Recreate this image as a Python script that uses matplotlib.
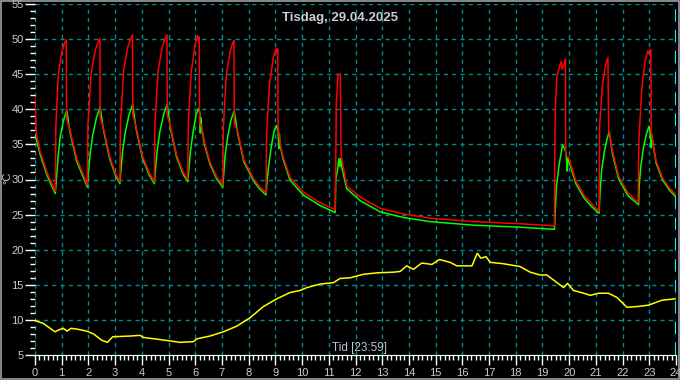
import matplotlib
matplotlib.use("Agg")
import matplotlib.pyplot as plt
from matplotlib.ticker import MultipleLocator
from matplotlib.patches import Rectangle

# time in hours, temperatures in degC
red_t = [0, 0.05, 0.19, 0.44, 0.62, 0.76,
         0.78, 0.87, 1.0, 1.10, 1.17, 1.18, 1.30, 1.56, 1.81, 1.96,
         1.98, 2.10, 2.25, 2.36, 2.43, 2.44, 2.56, 2.80, 3.02, 3.18,
         3.20, 3.32, 3.47, 3.58, 3.65, 3.66, 3.78, 4.02, 4.28, 4.47,
         4.49, 4.61, 4.76, 4.87, 4.94, 4.95, 5.07, 5.30, 5.55, 5.72,
         5.74, 5.85, 5.98, 6.06, 6.09, 6.12, 6.15, 6.16, 6.24, 6.35, 6.55, 6.80, 7.03,
         7.05, 7.16, 7.30, 7.40, 7.45, 7.46, 7.58, 7.82, 8.20, 8.40, 8.65,
         8.67, 8.78, 8.92, 9.00, 9.03, 9.06, 9.09, 9.10, 9.18, 9.29, 9.55, 10.04, 10.67, 11.24,
         11.26, 11.28, 11.35, 11.43, 11.46, 11.67, 12.17, 12.92, 13.78, 14.79, 16.4, 18.16, 19.44,
         19.45, 19.46, 19.48, 19.54, 19.64, 19.70, 19.74, 19.80, 19.86, 19.87,
         20.0, 20.25, 20.55, 20.85, 21.12,
         21.14, 21.25, 21.36, 21.45, 21.48, 21.62, 21.85, 22.20, 22.58,
         22.61, 22.72, 22.84, 22.94, 22.97, 23.02, 23.06, 23.07, 23.25, 23.50, 23.75, 23.97]
red_v = [41.7, 36.6, 34.0, 31.1, 29.5, 28.3,
         37.4, 44.9, 48.0, 49.4, 49.9, 38.6, 37.2, 33.0, 30.7, 29.2,
         37.6, 45.0, 48.3, 49.6, 50.1, 38.8, 37.4, 33.2, 30.8, 29.7,
         38.0, 45.5, 48.8, 50.1, 50.6, 39.2, 37.6, 33.4, 30.9, 29.7,
         38.0, 45.5, 48.8, 50.1, 50.6, 39.2, 37.6, 33.5, 31.0, 30.0,
         38.0, 45.3, 48.9, 50.2, 50.5, 49.8, 50.3, 38.0, 37.5, 35.2, 32.5, 30.4, 29.2,
         37.3, 44.7, 48.2, 49.4, 49.8, 38.0, 37.0, 32.8, 30.0, 29.0, 28.1,
         36.5, 43.5, 47.3, 48.3, 48.7, 48.1, 48.6, 37.5, 35.1, 33.2, 30.3, 28.2, 26.7, 25.7,
         31.8, 40.9, 45.0, 45.0, 33.5, 29.1, 27.5, 25.9, 25.1, 24.5, 24.0, 23.7, 23.4,
         23.4, 33.2, 39.9, 44.6, 46.1, 46.8, 45.7, 46.4, 47.2, 33.5,
         32.9, 29.8, 27.8, 26.5, 25.5,
         37.7, 43.5, 46.3, 47.4, 37.0, 34.1, 30.5, 28.1, 26.7,
         35.6, 43.0, 46.8, 48.3, 48.0, 48.4, 48.5, 36.8, 32.7, 30.2, 28.8, 27.9]

green_t = [0, 0.19, 0.44, 0.62, 0.76,
           0.80, 0.86, 0.94, 1.06, 1.19, 1.30, 1.56, 1.81, 1.96,
           1.99, 2.06, 2.16, 2.30, 2.44, 2.56, 2.80, 3.02, 3.18,
           3.21, 3.28, 3.38, 3.52, 3.66, 3.78, 4.02, 4.28, 4.47,
           4.50, 4.57, 4.67, 4.81, 4.95, 5.07, 5.30, 5.55, 5.72,
           5.75, 5.82, 5.92, 6.03, 6.12, 6.17, 6.19, 6.21, 6.24, 6.35, 6.55, 6.80, 7.03,
           7.06, 7.12, 7.22, 7.34, 7.46, 7.58, 7.82, 8.20, 8.40, 8.65,
           8.68, 8.75, 8.85, 8.96, 9.04, 9.10, 9.13, 9.15, 9.18, 9.29, 9.55, 10.04, 10.67, 11.24,
           11.26, 11.33, 11.38, 11.42, 11.45, 11.50, 11.67, 12.17, 12.92, 13.78, 14.79, 16.4, 18.16, 19.45,
           19.47, 19.52, 19.62, 19.75, 19.85, 19.90, 19.93, 19.96, 20.0,
           20.25, 20.55, 20.85, 21.12,
           21.16, 21.22, 21.32, 21.42, 21.50, 21.62, 21.85, 22.20, 22.60,
           22.62, 22.68, 22.78, 22.90, 22.99, 23.04, 23.07, 23.09, 23.25, 23.50, 23.75, 23.97]
green_v = [36.4, 33.6, 30.7, 29.1, 28.0,
           30.0, 33.0, 36.0, 38.3, 39.9, 36.9, 32.6, 30.3, 28.9,
           30.5, 33.5, 36.3, 38.8, 40.3, 37.1, 32.9, 30.5, 29.4,
           31.0, 34.0, 36.7, 39.2, 40.7, 37.3, 33.1, 30.6, 29.4,
           31.0, 34.0, 36.7, 39.2, 40.7, 37.3, 33.2, 30.7, 29.7,
           31.0, 34.0, 36.8, 39.2, 40.1, 39.5, 36.6, 38.8, 37.3, 34.9, 32.2, 30.1, 28.9,
           30.5, 33.5, 36.2, 38.5, 39.8, 36.7, 32.5, 29.7, 28.7, 27.8,
           29.5, 32.0, 34.8, 37.0, 37.7, 37.0, 34.4, 36.5, 34.8, 32.9, 29.9, 27.8, 26.3, 25.3,
           29.9, 31.5, 33.0, 31.8, 33.0, 31.5, 28.7, 27.0, 25.4, 24.6, 24.0, 23.5, 23.2, 22.9,
           25.0, 28.9, 32.0, 34.9, 34.3, 33.0, 31.2, 33.2, 32.5,
           29.4, 27.4, 26.1, 25.2,
           28.5, 31.5, 34.0, 35.8, 36.8, 33.7, 30.1, 27.7, 26.4,
           29.0, 31.8, 34.5, 36.6, 37.6, 36.5, 34.5, 36.3, 32.4, 29.9, 28.5, 27.6]

yellow_t = [0, 0.31, 0.75, 0.9, 1.06, 1.2, 1.35, 1.56, 1.94, 2.19, 2.5, 2.71, 2.91, 3.56,
            3.93, 4.06, 4.68, 5.06, 5.43, 5.93, 6.06, 6.55, 7.05, 7.55, 8.05, 8.55,
            9.05, 9.55, 9.93, 10.18, 10.67, 11.17, 11.42, 11.8, 12.1, 12.3, 12.8,
            13.42, 13.67, 13.92, 14.17, 14.48, 14.86, 15.14, 15.54, 15.79, 16.36,
            16.56, 16.69, 16.89, 17.04, 17.54, 18.16, 18.54, 18.91, 19.16, 19.41,
            19.79, 19.94, 20.16, 20.54, 20.79, 21.1, 21.47, 21.79, 22.16, 22.54,
            22.97, 23.47, 23.97]
yellow_v = [9.9, 9.5, 8.3, 8.6, 8.8, 8.4, 8.8, 8.7, 8.4, 8.0, 7.1, 6.8, 7.6, 7.7,
            7.8, 7.5, 7.2, 7.0, 6.8, 6.9, 7.3, 7.7, 8.3, 9.1, 10.3, 11.9,
            13.0, 13.9, 14.2, 14.6, 15.1, 15.3, 15.9, 16.0, 16.3, 16.5, 16.7,
            16.8, 16.9, 17.7, 17.2, 18.1, 17.9, 18.6, 18.2, 17.7, 17.7,
            19.5, 18.8, 19.0, 18.2, 18.0, 17.6, 16.8, 16.4, 16.4, 15.7,
            14.6, 15.2, 14.2, 13.8, 13.5, 13.8, 13.8, 13.2, 11.8, 11.9,
            12.1, 12.8, 13.0]

title = "Tisdag, 29.04.2025"
xlabel = "Tid [23:59]"
ylabel = "°C"

fg = "#c8ccd4"
grid_col = "#008c8c"
fonts = ["Liberation Sans", "DejaVu Sans"]

fig = plt.figure(figsize=(6.8, 3.8), dpi=100, facecolor="black")
ax = fig.add_axes([35 / 680, 25 / 380, 641 / 680, 351 / 380], facecolor="black")

# red on top of green, like the reference
ax.plot(green_t, green_v, color="#00ff00", lw=1.1, zorder=3)
ax.plot(red_t, red_v, color="#ff0000", lw=1.1, zorder=4)
ax.plot(yellow_t, yellow_v, color="#ffff00", lw=1.1, zorder=4)

ax.set_xlim(0, 24)
ax.set_ylim(5, 55)
ax.xaxis.set_major_locator(MultipleLocator(1))
ax.xaxis.set_minor_locator(MultipleLocator(1 / 6))
ax.yaxis.set_major_locator(MultipleLocator(5))
ax.yaxis.set_minor_locator(MultipleLocator(1))

ax.grid(True, which="major", color=grid_col, linestyle=(0, (3, 3)), lw=1.0)
ax.axvline(24, color="#00ffff", lw=1.5, linestyle=(0, (6, 4)), zorder=5)

for s in ["top", "right", "left"]:
    ax.spines[s].set_visible(False)
ax.spines["bottom"].set_color("white")

ax.tick_params(axis="both", which="major", colors="white", labelcolor=fg,
               labelsize=8, length=7, width=1, direction="out")
ax.tick_params(axis="both", which="minor", colors="white", length=3.5, width=1,
               direction="out")
ax.tick_params(axis="x", which="major", pad=2)
ax.tick_params(axis="y", which="major", pad=1)
for lab in ax.get_xticklabels() + ax.get_yticklabels():
    lab.set_fontfamily(fonts)

fig.text(0.5, 1 - 17.5 / 380, title, color=fg, fontsize=9.5, fontweight="bold",
         ha="center", va="center", family=fonts)
fig.text(359.5 / 680, 1 - 348 / 380, xlabel, color="#b8c8dc", fontsize=8.5,
         ha="center", va="center", family=fonts)
fig.text(7 / 680, 1 - 178 / 380, ylabel, color=fg, fontsize=8, rotation=90,
         ha="center", va="center", family=fonts)

fig.patches.append(Rectangle((0.001, 0.002), 0.997, 0.995, transform=fig.transFigure,
                             fill=False, edgecolor="#a0a0a0", lw=1.2))

fig.savefig("out.png", dpi=100, facecolor="black")
